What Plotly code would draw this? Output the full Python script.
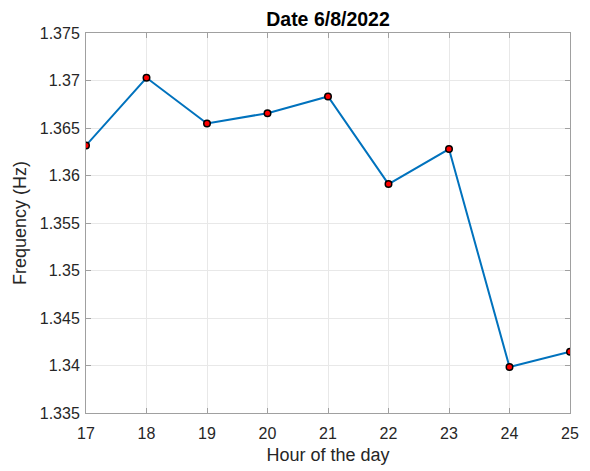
import plotly.graph_objects as go

hours = [17, 18, 19, 20, 21, 22, 23, 24, 25]
frequency = [1.36317, 1.37029, 1.36548, 1.36656, 1.36832, 1.3591, 1.36278, 1.33984, 1.34146]
y_tickvals = [1.335, 1.34, 1.345, 1.35, 1.355, 1.36, 1.365, 1.37, 1.375]
y_ticktext = ["1.335", "1.34", "1.345", "1.35", "1.355", "1.36", "1.365", "1.37", "1.375"]
x_tickvals = hours

FONT = "Liberation Sans, Arial, Helvetica, sans-serif"

# page body has an 8px default margin, so the figure is sized/offset to compensate
W, H = 582, 463
L, R, T, B = 78, 20, 24.5, 58.3

fig = go.Figure()
fig.add_trace(go.Scatter(
    x=hours, y=frequency, mode="lines+markers",
    line=dict(color="#0072BD", width=2),
    marker=dict(color="red", size=6.5, line=dict(color="black", width=1.5)),
))

axis_common = dict(
    showline=True, linecolor="#a0a0a0", linewidth=1, mirror="ticks",
    ticks="inside", ticklen=5, tickcolor="#a0a0a0",
    showgrid=True, gridcolor="#e8e8e8", gridwidth=1, zeroline=False,
    automargin=False,
    tickfont=dict(family=FONT, size=16, color="#262626"),
)

fig.update_layout(
    width=W, height=H,
    margin=dict(l=L, r=R, t=T, b=B, pad=0),
    paper_bgcolor="white", plot_bgcolor="white",
    showlegend=False,
    title=dict(text="<b>Date 6/8/2022</b>", x=(L + (W - R)) / 2 / W, xanchor="center", xref="container",
               y=1 - 11 / H, yref="container", yanchor="middle", automargin=False,
               font=dict(family=FONT, size=19.5, color="black")),
    xaxis=dict(range=[17, 25], tickvals=x_tickvals, ticklabelstandoff=6,
               title=dict(text="Hour of the day", standoff=7,
                          font=dict(family=FONT, size=18, color="#262626")),
               **axis_common),
    yaxis=dict(range=[1.335, 1.375], tickvals=y_tickvals, ticktext=y_ticktext, ticklabelstandoff=2,
               title=dict(text="Frequency (Hz)", standoff=8,
                          font=dict(family=FONT, size=18, color="#262626")),
               **axis_common),
)

fig.write_html("out.html")
